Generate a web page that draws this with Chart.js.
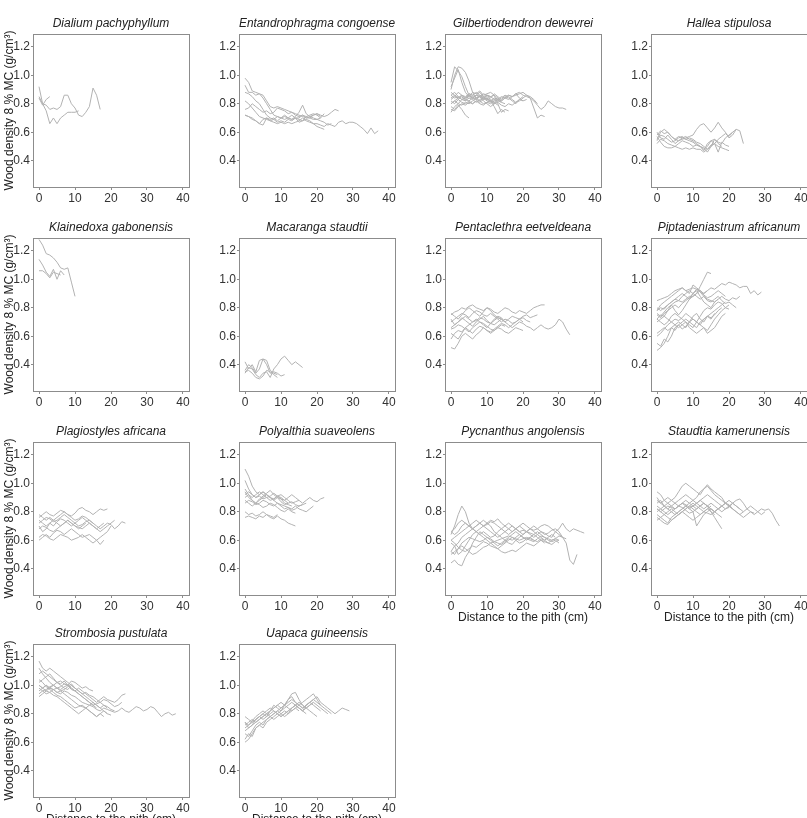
<!DOCTYPE html>
<html>
<head>
<meta charset="utf-8">
<script src="https://cdn.jsdelivr.net/npm/chart.js@4/dist/chart.umd.min.js"></script>
<style>
  html, body { margin: 0; padding: 0; background: #fff; }
  #board { position: relative; width: 807px; height: 818px; overflow: hidden; }
  #board canvas { position: absolute; }
</style>
</head>
<body>
<div id="board"></div>
<script>
// distance to the pith (cm) of each sample, one per cm
const pithDistance = [0,1,2,3,4,5,6,7,8,9,10,11,12,13,14,15,16,17,18,19,20,21,22,23,24,25,26,27,28,29,30,31,32,33,34,35,36,37,38,39,40];
const xTicks = [0, 10, 20, 30, 40];
const yTicks = [0.4, 0.6, 0.8, 1.0, 1.2];

// wood density profiles (g/cm3), one array per tree
const dialium = [
  [0.92,0.80,0.75,0.66,0.70,0.66,0.70,0.72,0.74,0.74,0.74,0.75],
  [0.85,0.80,0.79,0.76,0.77,0.76,0.78,0.86,0.86,0.80,0.77,0.72,0.71,0.74,0.78,0.91,0.86,0.76],
  [0.84,0.79,0.83,0.85]
];
const entandrophragma = [
  [0.72,0.71,0.70,0.68,0.66,0.69,0.70,0.68,0.69,0.67,0.68,0.67,0.69,0.68,0.70,0.67,0.68,0.69,0.68,0.66,0.66,0.65,0.64,0.66,0.65,0.64,0.67,0.68,0.66,0.67,0.67,0.66,0.64,0.62,0.59,0.63,0.59,0.61],
  [0.76,0.77,0.80,0.78,0.76,0.74,0.75,0.73,0.74,0.77,0.76,0.75,0.73,0.74,0.72,0.71,0.72,0.70,0.71,0.72,0.73,0.72,0.71,0.72,0.74,0.76,0.75],
  [0.98,0.95,0.89,0.88,0.87,0.86,0.82,0.78,0.77,0.78,0.77,0.76,0.75,0.74,0.73,0.72,0.71,0.70,0.70,0.69,0.69,0.70,0.73],
  [0.93,0.88,0.88,0.86,0.87,0.84,0.80,0.76,0.72,0.71,0.70,0.69,0.70,0.69,0.71,0.74,0.79,0.73,0.71,0.70,0.69,0.68,0.67,0.65,0.66],
  [0.82,0.80,0.77,0.74,0.71,0.70,0.69,0.68,0.67,0.66,0.67,0.66,0.67,0.66,0.67,0.68,0.70,0.68,0.67,0.66,0.64,0.63,0.62],
  [0.72,0.71,0.69,0.68,0.66,0.65,0.70,0.69,0.70,0.68,0.70,0.71,0.70,0.72,0.70,0.69,0.68,0.71,0.72,0.73,0.72,0.70],
  [0.88,0.87,0.85,0.82,0.80,0.76,0.72,0.70,0.69,0.71,0.70,0.72,0.70,0.69,0.70,0.70,0.72,0.71,0.70,0.72,0.73,0.71]
];
const gilbertiodendron = [
  [0.86,0.84,0.85,0.83,0.84,0.85,0.84,0.86,0.85,0.84,0.83,0.82,0.84,0.83,0.85,0.84,0.86,0.85,0.87,0.88,0.86,0.85,0.84,0.82,0.79,0.76,0.78,0.82,0.80,0.78,0.77,0.77,0.76],
  [0.80,0.82,0.84,0.86,0.85,0.87,0.86,0.84,0.85,0.87,0.86,0.85,0.86,0.84,0.82,0.84,0.83,0.85,0.86,0.87,0.88,0.86,0.84,0.77,0.70,0.72,0.71],
  [0.90,1.00,1.06,1.05,1.02,0.96,0.88,0.84,0.86,0.85,0.83,0.82,0.81,0.83,0.82],
  [0.95,1.06,1.03,0.99,0.92,0.86,0.84,0.86,0.85,0.83,0.84,0.82,0.80],
  [0.92,0.98,1.04,0.95,0.88,0.85,0.88,0.87,0.89,0.86,0.87,0.88,0.86,0.80,0.74,0.76,0.75],
  [0.78,0.76,0.79,0.76,0.72,0.70],
  [0.84,0.86,0.83,0.85,0.82,0.84,0.83,0.81,0.83,0.84,0.82,0.81,0.83,0.82,0.84,0.86,0.85,0.83,0.81,0.82,0.84,0.86,0.85,0.83,0.80],
  [0.76,0.75,0.78,0.80,0.79,0.81,0.80,0.82,0.80,0.79,0.81,0.80,0.82,0.83,0.81,0.80],
  [0.88,0.86,0.84,0.86,0.83,0.82,0.80,0.82,0.81,0.83,0.84,0.82,0.80,0.81,0.79,0.78,0.80,0.79,0.81,0.83,0.82],
  [0.82,0.80,0.83,0.81,0.80,0.82,0.84,0.83,0.85,0.82,0.80,0.78,0.80,0.82,0.81],
  [0.74,0.78,0.80,0.83,0.82,0.86,0.84,0.86,0.88,0.85,0.86,0.84,0.87,0.85,0.83,0.85,0.84,0.82,0.80,0.83,0.85],
  [0.86,0.88,0.85,0.83,0.84,0.86,0.85,0.83,0.82,0.84,0.85,0.83,0.81,0.79],
  [0.83,0.85,0.88,0.86,0.84,0.87,0.86,0.88,0.86,0.84,0.86,0.85,0.83,0.84,0.82,0.84,0.86,0.85,0.87,0.84,0.82,0.83],
  [0.80,0.82,0.80,0.79,0.81,0.80,0.82,0.84,0.82,0.80,0.81,0.82,0.78,0.73,0.76,0.74]
];
const hallea = [
  [0.55,0.60,0.62,0.60,0.57,0.55,0.54,0.55,0.56,0.57,0.58,0.62,0.65,0.66,0.63,0.60,0.63,0.67,0.63,0.60,0.56,0.58,0.62,0.61,0.52],
  [0.57,0.53,0.50,0.49,0.49,0.50,0.49,0.48,0.49,0.48,0.49,0.48,0.48,0.46,0.48,0.51,0.52,0.50,0.49,0.48,0.47],
  [0.60,0.56,0.55,0.58,0.55,0.52,0.54,0.56,0.55,0.54,0.53,0.51,0.50,0.47,0.52,0.54,0.52,0.46,0.53,0.51,0.50],
  [0.58,0.61,0.59,0.60,0.57,0.55,0.57,0.56,0.57,0.55,0.54,0.52,0.50,0.49,0.46,0.50,0.55,0.53,0.52,0.56,0.58,0.60,0.62],
  [0.52,0.55,0.54,0.52,0.51,0.50,0.52,0.54,0.53,0.52,0.50,0.51,0.50,0.48,0.50,0.54,0.55,0.52,0.50],
  [0.54,0.58,0.57,0.55,0.53,0.54,0.56,0.57,0.55,0.56,0.55,0.53,0.52,0.50,0.48,0.50,0.52,0.55,0.57,0.59,0.57,0.60]
];
const klainedoxa = [
  [1.28,1.24,1.18,1.17,1.15,1.12,1.08,1.07,1.08,0.98,0.88],
  [1.14,1.10,1.05,1.02,1.07,1.00,1.06,1.03],
  [1.06,1.06,1.04,1.01,1.05,1.04,1.03]
];
const macaranga = [
  [0.34,0.38,0.37,0.33,0.31,0.34,0.35,0.31,0.37,0.40,0.44,0.46,0.43,0.40,0.42,0.40,0.38],
  [0.42,0.37,0.40,0.35,0.43,0.44,0.43,0.36,0.34,0.33],
  [0.36,0.40,0.38,0.34,0.37,0.44,0.40,0.34,0.35,0.34,0.32,0.33],
  [0.35,0.36,0.34,0.31,0.30,0.32,0.36,0.35,0.33,0.31]
];
const pentaclethra = [
  [0.66,0.68,0.70,0.72,0.74,0.72,0.70,0.71,0.73,0.72,0.70,0.69,0.68,0.70,0.72,0.70,0.68,0.66,0.68,0.70,0.69,0.67,0.66,0.64,0.66,0.68,0.66,0.65,0.66,0.68,0.72,0.70,0.65,0.61],
  [0.75,0.77,0.78,0.80,0.79,0.81,0.82,0.80,0.79,0.78,0.80,0.79,0.77,0.76,0.78,0.80,0.79,0.77,0.76,0.78,0.77,0.76,0.78,0.80,0.81,0.82,0.82],
  [0.52,0.51,0.55,0.60,0.62,0.60,0.58,0.61,0.63,0.66,0.64,0.62,0.64,0.66,0.65,0.63,0.62,0.64,0.66,0.65,0.64],
  [0.62,0.60,0.58,0.62,0.66,0.68,0.70,0.72,0.70,0.68,0.66,0.69,0.72,0.74,0.73,0.70,0.72,0.74,0.73,0.72,0.74,0.75,0.73,0.74,0.75],
  [0.70,0.72,0.74,0.76,0.75,0.73,0.76,0.78,0.77,0.75,0.74,0.76,0.74,0.72,0.70,0.72,0.71,0.69,0.70,0.72,0.70],
  [0.72,0.68,0.70,0.73,0.71,0.69,0.67,0.70,0.72,0.74,0.71,0.69,0.71,0.73,0.72,0.70],
  [0.58,0.62,0.64,0.63,0.66,0.64,0.62,0.65,0.67,0.66,0.64,0.63,0.65,0.67,0.69,0.68,0.66,0.68,0.70,0.72,0.73,0.71,0.70],
  [0.76,0.74,0.72,0.75,0.78,0.80,0.78,0.76,0.74,0.77,0.80,0.78,0.75,0.73,0.72],
  [0.65,0.66,0.68,0.67,0.65,0.63,0.66,0.68,0.70,0.69,0.67,0.65,0.64,0.66,0.68,0.67]
];
const piptadeniastrum = [
  [0.85,0.86,0.87,0.88,0.90,0.92,0.93,0.94,0.92,0.93,0.94,0.93,0.92,0.90,0.92,0.94,0.93,0.95,0.97,0.96,0.98,0.97,0.96,0.94,0.95,0.95,0.90,0.92,0.89,0.91],
  [0.75,0.73,0.76,0.78,0.82,0.84,0.85,0.84,0.86,0.88,0.88,0.90,0.95,1.00,1.05,1.04],
  [0.78,0.80,0.79,0.82,0.84,0.86,0.85,0.88,0.90,0.92,0.90,0.88,0.86,0.88,0.85,0.84,0.86,0.88,0.85,0.83,0.84,0.82,0.80],
  [0.72,0.75,0.74,0.78,0.80,0.82,0.80,0.83,0.85,0.87,0.90,0.93,0.91,0.88,0.86,0.85,0.84,0.86,0.88,0.86,0.85,0.87,0.86,0.88],
  [0.50,0.52,0.55,0.60,0.66,0.64,0.68,0.70,0.72,0.70,0.74,0.76,0.72,0.70,0.74,0.76,0.78,0.80,0.82,0.84],
  [0.55,0.53,0.58,0.56,0.60,0.66,0.68,0.65,0.67,0.70,0.68,0.66,0.70,0.72,0.74,0.73,0.75,0.78,0.80],
  [0.60,0.62,0.65,0.68,0.70,0.72,0.71,0.73,0.76,0.74,0.72,0.70,0.68,0.66,0.64,0.68,0.72,0.75,0.78,0.80,0.82],
  [0.80,0.78,0.80,0.82,0.84,0.86,0.88,0.90,0.88,0.86,0.88,0.90,0.92,0.89,0.87,0.88,0.90,0.92,0.90,0.88],
  [0.70,0.72,0.74,0.72,0.70,0.68,0.66,0.68,0.70,0.66,0.64,0.62,0.64,0.66,0.62,0.64,0.66,0.70,0.74,0.76],
  [0.76,0.74,0.77,0.80,0.82,0.78,0.75,0.78,0.82,0.86,0.90,0.92,0.88,0.84,0.82,0.80,0.84,0.86],
  [0.62,0.64,0.66,0.64,0.66,0.68,0.70,0.68,0.66,0.70,0.72,0.70,0.68,0.72,0.74,0.72,0.76],
  [0.78,0.82,0.84,0.86,0.88,0.90,0.92,0.94,0.92,0.90,0.96,0.94,0.92,0.90,0.92],
  [0.72,0.70,0.68,0.70,0.74,0.76,0.74,0.72,0.70,0.68,0.66,0.70,0.74,0.78,0.80,0.79,0.82,0.84,0.83,0.80,0.79]
];
const plagiostyles = [
  [0.72,0.74,0.76,0.75,0.73,0.74,0.76,0.78,0.76,0.74,0.72,0.70,0.71,0.73,0.74,0.72,0.70,0.68,0.70,0.72,0.71,0.68,0.70,0.73,0.72],
  [0.76,0.78,0.80,0.78,0.77,0.79,0.81,0.80,0.78,0.77,0.79,0.82,0.83,0.81,0.80,0.78,0.80,0.82,0.81,0.82],
  [0.62,0.64,0.63,0.61,0.60,0.62,0.64,0.63,0.62,0.60,0.61,0.62,0.64,0.62,0.60,0.58,0.60,0.62,0.64,0.66,0.70],
  [0.68,0.70,0.69,0.67,0.66,0.68,0.70,0.72,0.74,0.72,0.70,0.69,0.68,0.70,0.72,0.70,0.68,0.66,0.68,0.70,0.72,0.74],
  [0.74,0.72,0.70,0.72,0.74,0.76,0.78,0.80,0.78,0.76,0.74,0.75,0.77,0.76,0.74,0.72],
  [0.60,0.62,0.64,0.62,0.65,0.67,0.66,0.64,0.66,0.68,0.66,0.64,0.62,0.63,0.64,0.62,0.60,0.57,0.60],
  [0.70,0.66,0.68,0.72,0.70,0.73,0.75,0.74,0.72,0.70,0.72,0.74,0.76,0.74,0.72,0.70,0.68,0.70,0.72],
  [0.78,0.76,0.74,0.76,0.74,0.72,0.70,0.72,0.74,0.72,0.70,0.68,0.70,0.72]
];
const polyalthia = [
  [1.02,0.96,0.92,0.90,0.91,0.89,0.90,0.88,0.89,0.91,0.92,0.90,0.88,0.86,0.87,0.88,0.86,0.88,0.90,0.88,0.87,0.89,0.90],
  [1.10,1.05,0.98,0.94,0.92,0.94,0.92,0.90,0.88,0.90,0.89,0.86,0.85,0.84],
  [0.92,0.94,0.92,0.90,0.92,0.94,0.92,0.90,0.89,0.91,0.90,0.88,0.86,0.87,0.85,0.84,0.85,0.86],
  [0.86,0.88,0.87,0.85,0.86,0.88,0.87,0.85,0.84,0.86,0.84,0.82,0.83,0.81,0.82,0.84,0.85],
  [0.80,0.78,0.79,0.77,0.78,0.80,0.78,0.76,0.75,0.77,0.75,0.74,0.72,0.71,0.70],
  [0.76,0.77,0.76,0.75,0.77,0.76,0.78,0.77,0.76,0.78],
  [0.90,0.92,0.88,0.86,0.88,0.90,0.92,0.90,0.88,0.86,0.85,0.84,0.83,0.82,0.84,0.82,0.81,0.80,0.82,0.84],
  [0.96,0.92,0.90,0.92,0.94,0.92,0.90,0.91,0.93,0.91,0.89,0.88,0.90,0.92,0.90,0.88],
  [0.88,0.86,0.84,0.86,0.85,0.83,0.84,0.86,0.85,0.83,0.81,0.80,0.82,0.80,0.79],
  [0.94,0.90,0.88,0.86,0.89,0.91,0.93,0.95,0.92,0.90,0.87,0.85,0.86]
];
const pycnanthus = [
  [0.60,0.62,0.64,0.66,0.68,0.70,0.68,0.66,0.64,0.66,0.64,0.62,0.63,0.66,0.68,0.70,0.72,0.70,0.68,0.66,0.67,0.66,0.64,0.62,0.64,0.66,0.65,0.63,0.62,0.66,0.68,0.72,0.68,0.66,0.68,0.67,0.66,0.65],
  [0.52,0.50,0.54,0.58,0.60,0.62,0.61,0.60,0.59,0.60,0.62,0.61,0.59,0.58,0.57,0.59,0.61,0.60,0.62,0.64,0.62,0.61,0.60,0.59,0.61,0.63,0.62,0.61,0.60,0.61,0.63,0.62,0.58,0.46,0.43,0.50],
  [0.64,0.70,0.78,0.84,0.80,0.72,0.68,0.70,0.72,0.70,0.68,0.66,0.64,0.62,0.64,0.66,0.68,0.70,0.68,0.66,0.64,0.66,0.68,0.70,0.68,0.66,0.64,0.65,0.67,0.68,0.66,0.62],
  [0.44,0.46,0.43,0.42,0.48,0.52,0.58,0.62,0.66,0.64,0.62,0.60,0.58,0.56,0.58,0.60,0.62,0.64,0.66,0.64,0.62,0.60,0.62,0.64,0.66,0.64,0.62,0.60,0.59,0.60,0.58],
  [0.52,0.56,0.50,0.52,0.56,0.60,0.64,0.66,0.64,0.62,0.60,0.58,0.56,0.54,0.52,0.51,0.52,0.53,0.52,0.54,0.56,0.58,0.57,0.56,0.58,0.60,0.59,0.58,0.60,0.61,0.60],
  [0.66,0.64,0.66,0.70,0.72,0.70,0.72,0.74,0.72,0.70,0.71,0.73,0.72,0.70,0.68,0.66,0.64,0.66,0.68,0.70,0.68,0.66,0.65,0.64,0.62,0.60,0.58],
  [0.58,0.56,0.58,0.62,0.64,0.66,0.68,0.70,0.72,0.74,0.72,0.70,0.66,0.64,0.62,0.60,0.58,0.57,0.60,0.62,0.64,0.66,0.68,0.66,0.64,0.62,0.60,0.62,0.64,0.62],
  [0.60,0.58,0.55,0.53,0.52,0.54,0.56,0.55,0.57,0.59,0.58,0.56,0.55,0.54,0.56,0.58,0.60,0.62,0.60,0.58,0.59,0.61,0.62,0.60,0.59,0.61,0.60,0.58,0.57,0.59,0.60],
  [0.66,0.68,0.72,0.74,0.72,0.70,0.68,0.66,0.68,0.70,0.72,0.74,0.73,0.75,0.72,0.70,0.68,0.66,0.68,0.70,0.72,0.70,0.68,0.67,0.68,0.70,0.71,0.70,0.68,0.66,0.64,0.62,0.61],
  [0.50,0.52,0.54,0.56,0.54,0.52,0.50,0.51,0.53,0.55,0.56,0.58,0.59,0.60,0.61,0.62,0.63,0.62,0.61,0.60,0.61,0.62,0.61,0.60]
];
const staudtia = [
  [0.82,0.80,0.82,0.84,0.83,0.82,0.84,0.86,0.84,0.82,0.84,0.86,0.88,0.86,0.84,0.82,0.80,0.82,0.84,0.82,0.83,0.86,0.88,0.89,0.86,0.82,0.80,0.78,0.80,0.82,0.81,0.82,0.79,0.74,0.70],
  [0.80,0.82,0.84,0.86,0.88,0.90,0.94,0.98,1.00,0.98,0.96,0.94,0.92,0.96,0.98,0.95,0.92,0.90,0.88,0.86],
  [0.86,0.88,0.84,0.82,0.84,0.86,0.88,0.90,0.92,0.90,0.88,0.90,0.94,0.96,0.99,0.96,0.94,0.92,0.90,0.86,0.84,0.82],
  [0.94,0.92,0.88,0.86,0.84,0.82,0.84,0.86,0.88,0.86,0.84,0.82,0.84,0.86,0.84,0.80,0.76,0.72,0.68],
  [0.76,0.74,0.72,0.71,0.74,0.76,0.78,0.80,0.78,0.76,0.74,0.76,0.78,0.80,0.82,0.80,0.78],
  [0.84,0.82,0.80,0.78,0.80,0.82,0.84,0.83,0.81,0.79,0.80,0.82,0.84,0.86,0.84,0.82,0.80,0.82,0.84,0.86,0.85,0.82,0.80,0.78,0.80,0.82,0.84,0.82,0.80,0.78,0.80],
  [0.78,0.76,0.74,0.72,0.76,0.78,0.80,0.82,0.84,0.82,0.80,0.70,0.74,0.78,0.80,0.82,0.80,0.78,0.76],
  [0.88,0.86,0.88,0.90,0.88,0.86,0.84,0.86,0.85,0.83,0.84,0.86,0.88,0.90,0.92,0.90,0.88,0.86,0.84,0.86,0.88,0.86,0.84,0.82,0.80],
  [0.82,0.80,0.78,0.80,0.82,0.80,0.78,0.80,0.82,0.84,0.82,0.80,0.78,0.80,0.79,0.78,0.80,0.82,0.84,0.86,0.84,0.82,0.80,0.78,0.76,0.78,0.80,0.79],
  [0.74,0.76,0.78,0.76,0.74,0.76,0.78,0.80,0.82,0.84,0.86,0.84,0.82,0.80,0.82,0.84],
  [0.90,0.86,0.84,0.82,0.80,0.78,0.80,0.82,0.84,0.86,0.88,0.86,0.84,0.82,0.84,0.86,0.84,0.82,0.80,0.82,0.84,0.86,0.84,0.82]
];
const strombosia = [
  [1.00,0.98,0.96,0.98,0.97,0.95,0.96,0.94,0.92,0.90,0.88,0.86,0.85,0.84,0.86,0.85,0.83,0.82,0.84,0.83,0.82,0.81,0.82,0.84,0.82,0.81,0.83,0.85,0.84,0.82,0.83,0.85,0.84,0.81,0.78,0.80,0.81,0.79,0.80],
  [1.08,1.10,1.08,1.06,1.04,1.02,1.01,1.03,1.00,0.97,0.96,0.98,0.96,0.94,0.92,0.90,0.88,0.90,0.92,0.90,0.89,0.88,0.90,0.93,0.94],
  [1.17,1.12,1.10,1.12,1.10,1.08,1.06,1.04,1.02,1.00,0.98,0.96,0.94,0.95,0.93,0.92,0.90,0.88,0.90,0.89,0.87,0.85,0.86,0.88],
  [1.02,1.04,1.06,1.08,1.05,1.02,1.03,1.01,1.00,1.03,1.02,1.00,0.98,0.99,0.97,0.96],
  [0.98,0.96,0.97,0.99,1.00,0.98,0.97,0.99,1.00,0.98,0.96,0.94,0.92,0.90,0.88,0.86,0.84],
  [0.94,0.96,0.94,0.95,0.97,0.98,0.96,0.97,0.99,1.01,0.98,0.96,0.94,0.92,0.90,0.88,0.86,0.84,0.82,0.80],
  [0.92,0.94,0.96,0.95,0.93,0.92,0.90,0.88,0.86,0.84,0.82,0.80,0.82,0.84,0.82,0.80,0.78,0.80,0.82,0.80,0.79],
  [1.00,0.98,1.00,0.98,0.97,0.95,0.94,0.96,0.95,0.93,0.92,0.90,0.88,0.87,0.86,0.88,0.86,0.84,0.86,0.85,0.83,0.82],
  [1.04,1.02,0.99,0.97,0.95,0.93,0.92,0.90,0.88,0.86,0.84,0.85,0.86,0.84,0.82,0.80,0.78,0.80,0.78],
  [0.96,0.98,1.00,0.98,1.00,1.02,1.00,0.98,0.97,1.00,0.98],
  [1.12,1.08,1.05,1.02,1.00,0.98,0.99,1.01,1.00,0.98,0.96,0.94,0.92,0.90,0.88,0.86,0.87,0.88,0.86,0.84]
];
const uapaca = [
  [0.74,0.72,0.75,0.78,0.80,0.82,0.80,0.82,0.84,0.86,0.84,0.86,0.88,0.90,0.88,0.86,0.84,0.86,0.88,0.90,0.92,0.88,0.86,0.84,0.82,0.80,0.82,0.84,0.83,0.82],
  [0.68,0.70,0.72,0.74,0.76,0.78,0.80,0.82,0.84,0.86,0.88,0.86,0.90,0.94,0.95,0.90,0.86,0.84,0.86,0.88],
  [0.60,0.62,0.66,0.70,0.72,0.74,0.76,0.78,0.80,0.82,0.84,0.86,0.84,0.82,0.84,0.86,0.88,0.90,0.92,0.94,0.90,0.86,0.84,0.82,0.80],
  [0.62,0.66,0.64,0.70,0.72,0.70,0.74,0.76,0.78,0.80,0.78,0.80,0.82,0.84,0.86,0.88,0.86,0.84,0.82,0.80,0.78],
  [0.70,0.72,0.74,0.76,0.78,0.76,0.78,0.80,0.82,0.80,0.82,0.84,0.86,0.88,0.86,0.84,0.82,0.84,0.86,0.88,0.86,0.84,0.82,0.80],
  [0.78,0.76,0.74,0.76,0.78,0.80,0.82,0.84,0.82,0.80,0.78,0.80,0.82,0.84,0.86,0.84,0.82,0.80],
  [0.74,0.70,0.72,0.76,0.78,0.80,0.78,0.82,0.86,0.84,0.82,0.86,0.90,0.92,0.88,0.86,0.84,0.86,0.88,0.86,0.84,0.82],
  [0.66,0.64,0.68,0.72,0.74,0.72,0.76,0.78,0.80,0.82,0.80,0.78,0.80,0.84,0.86,0.84,0.82,0.86,0.88,0.90,0.88,0.86],
  [0.72,0.74,0.76,0.74,0.76,0.78,0.80,0.78,0.76,0.78,0.80,0.82,0.80,0.82,0.84,0.82]
];

const speciesNames = [
  'Dialium pachyphyllum', 'Entandrophragma congoense', 'Gilbertiodendron dewevrei', 'Hallea stipulosa',
  'Klainedoxa gabonensis', 'Macaranga staudtii', 'Pentaclethra eetveldeana', 'Piptadeniastrum africanum',
  'Plagiostyles africana', 'Polyalthia suaveolens', 'Pycnanthus angolensis', 'Staudtia kamerunensis',
  'Strombosia pustulata', 'Uapaca guineensis'
];
const speciesProfiles = [
  dialium, entandrophragma, gilbertiodendron, hallea,
  klainedoxa, macaranga, pentaclethra, piptadeniastrum,
  plagiostyles, polyalthia, pycnanthus, staudtia,
  strombosia, uapaca
];
const yTitle = 'Wood density 8 % MC (g/cm³)';
const xTitle = 'Distance to the pith (cm)';
const withXTitle = [10, 11, 12, 13];

const FONT = 'Arial, "Liberation Sans", Helvetica, sans-serif';
const board = document.getElementById('board');
const colLeft = [0, 206, 412, 618];
const rowTop = [0, 204, 408, 610];
const W = 206, H = 230;

// frame around the plot area, like an R box()
const boxPlugin = {
  id: 'box',
  afterDraw(chart) {
    const { ctx, chartArea: a } = chart;
    ctx.save();
    ctx.strokeStyle = '#8c8c8c';
    ctx.lineWidth = 1;
    ctx.strokeRect(Math.round(a.left) + 0.5, Math.round(a.top) + 0.5,
      Math.round(a.right - a.left), Math.round(a.bottom - a.top));
    ctx.restore();
  }
};

speciesNames.forEach((name, i) => {
  const col = i % 4, row = Math.floor(i / 4);
  const canvas = document.createElement('canvas');
  canvas.width = W;
  canvas.height = H;
  canvas.style.left = colLeft[col] + 'px';
  canvas.style.top = rowTop[row] + 'px';
  board.appendChild(canvas);

  const hasX = withXTitle.includes(i);
  const xh = hasX ? 30 : 17;

  new Chart(canvas, {
    type: 'line',
    data: {
      datasets: speciesProfiles[i].map(p => ({
        data: p.map((v, j) => ({ x: pithDistance[j], y: v })),
        borderColor: '#b2b2b2',
        borderWidth: 1,
        pointRadius: 0,
        tension: 0
      }))
    },
    options: {
      responsive: false,
      animation: false,
      devicePixelRatio: 1,
      events: [],
      layout: { padding: { left: 0, top: 0, right: 17, bottom: H - 187 - xh } },
      plugins: {
        legend: { display: false },
        tooltip: { enabled: false },
        title: {
          display: true,
          fullSize: false,
          text: name,
          color: '#222',
          font: { family: FONT, size: 12, style: 'italic', weight: 'normal' },
          padding: { top: 16.8, bottom: 2.8 }
        }
      },
      scales: {
        x: {
          type: 'linear',
          min: -1.67,
          max: 41.67,
          afterBuildTicks: s => { s.ticks = xTicks.map(v => ({ value: v })); },
          afterFit: s => { s.height = xh; },
          ticks: {
            color: '#333',
            font: { family: FONT, size: 12 },
            padding: 1,
            maxRotation: 0,
            callback: v => String(v)
          },
          grid: { drawOnChartArea: false, drawTicks: true, tickLength: 3, color: '#8c8c8c' },
          border: { display: false },
          title: {
            display: hasX,
            text: xTitle,
            color: '#222',
            font: { family: FONT, size: 12 },
            padding: { top: 0, bottom: 0 }
          }
        },
        y: {
          min: 0.215,
          max: 1.29,
          afterBuildTicks: s => { s.ticks = yTicks.map(v => ({ value: v })); },
          afterFit: s => { s.width = 33; },
          ticks: {
            color: '#333',
            font: { family: FONT, size: 12 },
            padding: 1,
            callback: v => v.toFixed(1)
          },
          grid: { drawOnChartArea: false, drawTicks: true, tickLength: 2, color: '#8c8c8c' },
          border: { display: false },
          title: {
            display: col === 0,
            text: yTitle,
            color: '#222',
            font: { family: FONT, size: 12 },
            padding: { top: 2, bottom: 0 }
          }
        }
      }
    },
    plugins: [boxPlugin]
  });
});
</script>
</body>
</html>
